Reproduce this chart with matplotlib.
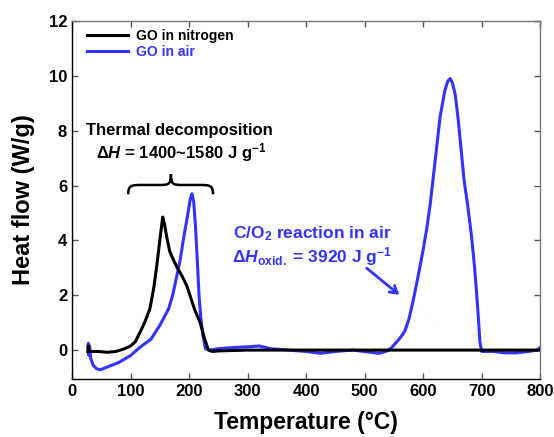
import numpy as np
import matplotlib.pyplot as plt
from matplotlib.path import Path
from matplotlib.patches import PathPatch

plt.rcParams['font.family'] = ['Liberation Sans', 'DejaVu Sans']
plt.rcParams['font.weight'] = 'bold'
plt.rcParams['mathtext.fontset'] = 'custom'
plt.rcParams['mathtext.it'] = 'Liberation Sans:italic:bold'
plt.rcParams['mathtext.rm'] = 'Liberation Sans:bold'
plt.rcParams['mathtext.bf'] = 'Liberation Sans:bold'

# GO in nitrogen
t_n2 = [27, 28, 29, 31, 35, 45, 60, 75, 90, 100, 108, 116, 124, 133, 140, 145, 150,
        155, 158, 162, 167, 173, 180, 188, 196, 203, 210, 219, 226, 233, 240, 250,
        300, 400, 500, 600, 700, 800]
hf_n2 = [-0.05, 0.15, 0.0, -0.05, -0.05, -0.05, -0.08, -0.05, 0.05, 0.15, 0.3, 0.64,
         1.0, 1.5, 2.3, 3.1, 4.0, 4.85, 4.6, 4.1, 3.6, 3.3, 3.0, 2.7, 2.35, 1.9,
         1.45, 1.0, 0.45, 0.0, -0.05, -0.03, 0.0, 0.0, 0.0, 0.0, 0.0, 0.0]

# GO in air
t_air = [27, 28, 29, 30, 32, 36, 42, 48, 60, 80, 100, 116, 135, 150, 165, 172, 179,
         185, 190, 195, 199, 202, 205, 208, 211, 214, 217, 220, 224, 228, 235, 250,
         280, 300, 320, 340, 370, 400, 425, 450, 480, 510, 525, 540, 546, 555, 562,
         569, 576, 583, 592, 600, 606, 612, 620, 629, 637, 642, 646, 650, 655, 660,
         665, 670, 676, 683, 688, 692, 695, 697, 700, 720, 740, 760, 780, 795, 800]
hf_air = [0.1, 0.25, -0.2, 0.15, -0.3, -0.55, -0.68, -0.72, -0.62, -0.45, -0.2, 0.1,
          0.4, 0.9, 1.5, 2.0, 2.7, 3.3, 4.0, 4.6, 5.1, 5.5, 5.7, 5.4, 4.5, 3.3, 2.0,
          1.2, 0.5, 0.05, 0.0, 0.05, 0.1, 0.12, 0.15, 0.05, 0.0, -0.05, -0.12, -0.05,
          0.0, -0.08, -0.12, -0.02, 0.09, 0.3, 0.48, 0.7, 1.15, 1.8, 2.75, 3.65,
          4.4, 5.3, 6.8, 8.5, 9.45, 9.8, 9.9, 9.75, 9.3, 8.4, 7.3, 6.2, 5.3, 4.1,
          3.0, 1.9, 1.0, 0.3, -0.05, -0.05, -0.1, -0.1, -0.05, 0.0, 0.1]

x_ticks = [0, 100, 200, 300, 400, 500, 600, 700, 800]
y_ticks = [0, 2, 4, 6, 8, 10, 12]

blue = '#3333ff'

fig = plt.figure(figsize=(5.54, 4.37), dpi=100)
ax = fig.add_axes([0.130, 0.133, 0.845, 0.819])

ax.plot(t_n2, hf_n2, color='black', lw=2.2, label='GO in nitrogen', zorder=3)
ax.plot(t_air, hf_air, color=blue, lw=2.2, label='GO in air', zorder=2)

ax.set_xlim(0, 800)
ax.set_ylim(-1.05, 12)
ax.set_xticks(x_ticks)
ax.set_yticks(y_ticks)
ax.tick_params(direction='in', top=True, right=True, labelsize=12, length=4,
               color='#555555', width=1)
for s in ax.spines.values():
    s.set_color('#777777')
    s.set_linewidth(1)
ax.spines['left'].set_color('black')
ax.spines['bottom'].set_color('black')

ax.set_xlabel('Temperature (°C)', fontsize=16.5, fontweight='bold', labelpad=9)
ax.set_ylabel('Heat flow (W/g)', fontsize=17, fontweight='bold', labelpad=10)

leg = ax.legend(loc='upper left', frameon=False, fontsize=10, handlelength=2.9,
                handletextpad=0.6, borderaxespad=0.2, labelspacing=0.1,
                bbox_to_anchor=(0.015, 1.0))
leg.get_texts()[1].set_color(blue)

# annotation: thermal decomposition
ax.text(184, 8.0, 'Thermal decomposition', ha='center', va='center', fontsize=12,
        fontweight='bold')
ax.text(186, 7.2, r'$\Delta H$ = 1400~1580 J g$^{\mathrm{-1}}$', ha='center',
        va='center', fontsize=12, fontweight='bold')

# curly brace over the first peaks
x0, x1, xm = 96, 241, 169
yb, ym, yt = 5.68, 6.02, 6.42
verts = [(x0, yb),
         (x0, ym), (x0 + 6, ym), (x0 + 24, ym),
         (xm - 22, ym),
         (xm - 4, ym), (xm, ym), (xm, yt),
         (xm, ym), (xm + 4, ym), (xm + 22, ym),
         (x1 - 24, ym),
         (x1 - 6, ym), (x1, ym), (x1, yb)]
codes = [Path.MOVETO,
         Path.CURVE4, Path.CURVE4, Path.CURVE4,
         Path.LINETO,
         Path.CURVE4, Path.CURVE4, Path.CURVE4,
         Path.CURVE4, Path.CURVE4, Path.CURVE4,
         Path.LINETO,
         Path.CURVE4, Path.CURVE4, Path.CURVE4]
ax.add_patch(PathPatch(Path(verts, codes), fill=False, lw=1.8, color='black'))

# annotation: oxidation
ax.text(410, 4.25, r'C/O$_{\mathbf{2}}$ reaction in air', ha='center', va='center',
        fontsize=12.5, fontweight='bold', color=blue)
ax.text(410, 3.42, r'$\Delta H_{\mathrm{oxid.}}$ = 3920 J g$^{\mathrm{-1}}$',
        ha='center', va='center', fontsize=12.5, fontweight='bold', color=blue)
ax.annotate('', xy=(563, 1.95), xytext=(500, 3.05),
            arrowprops=dict(arrowstyle='->,head_length=0.5,head_width=0.3',
                            color=blue, lw=2))

fig.savefig('out.png', dpi=100)
